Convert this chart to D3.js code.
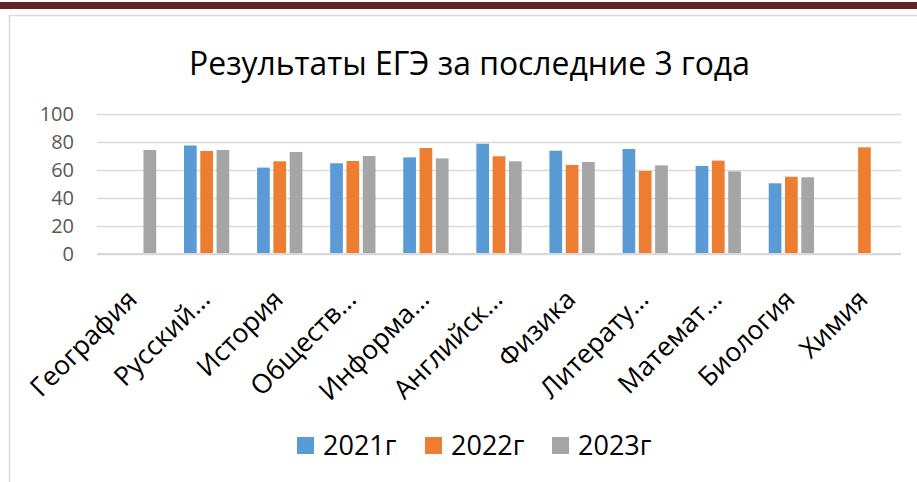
<!DOCTYPE html>
<html>
<head>
<meta charset="utf-8">
<script src="https://cdn.jsdelivr.net/npm/d3@7"></script>
<style>
  body { margin: 0; background: #fff; }
  svg { display: block; font-family: "Open Sans", sans-serif; }
</style>
</head>
<body>
<div id="canvas"></div>
<script>
// data
const subjects = ["География", "Русский…", "История", "Обществ…", "Информа…", "Английск…",
  "Физика", "Литерату…", "Математ…", "Биология", "Химия"];
const series = ["2021г", "2022г", "2023г"];
const v2021 = [null, 77.5, 61.7, 64.8, 69, 78.8, 73.8, 75, 62.9, 50.5, null];
const v2022 = [null, 73.6, 66.2, 66.4, 75.7, 69.8, 63.6, 59.3, 66.7, 55.2, 76.2];
const v2023 = [74.3, 74.3, 72.9, 70, 68.3, 66.2, 65.7, 63.3, 59, 54.8, null];
const yTicks = [0, 20, 40, 60, 80, 100];
const colors = ["#5b9bd5", "#ed7d31", "#a5a5a5"];
const title = "Результаты ЕГЭ за последние 3 года";

const width = 917, height = 482;
const margin = { top: 114, left: 97, right: 16, bottom: 228 };
const iwidth = width - margin.left - margin.right;
const iheight = height - margin.top - margin.bottom;

const canvas = d3.select("#canvas");
const svg = canvas.append("svg").attr("width", width).attr("height", height);

// page decoration: dark band and chart frame
svg.append("rect").attr("x", 0).attr("y", 2).attr("width", width).attr("height", 7)
  .style("fill", "#632523");
svg.append("rect").attr("x", 9.5).attr("y", 15.5).attr("width", width + 20).attr("height", height)
  .style("fill", "none").style("stroke", "#d9d9d9").style("stroke-width", 1.5);

// title
const t = svg.append("text")
  .attr("x", 469.5).attr("y", 75)
  .attr("text-anchor", "middle")
  .style("font-size", "30px")
  .style("fill", "#000")
  .text(title);
const tw = t.node().getComputedTextLength();
t.style("font-size", (30 * 561 / tw) + "px");

const g = svg.append("g").attr("transform", `translate(${margin.left}, ${margin.top})`);

const y = d3.scaleLinear().domain([0, 100]).range([iheight, 0]);
const x0 = d3.scaleBand().domain(subjects).range([0, iwidth]).padding(0);
const x1 = d3.scaleBand().domain(series).range([0, 45.3]).paddingInner(0.22);
const off = (x0.bandwidth() - 45.3) / 2;

// grid
g.append("g")
  .classed("y--grid", true)
  .call(d3.axisLeft(y).tickValues(yTicks).tickSize(-iwidth).tickFormat(""))
  .call(a => a.select(".domain").remove())
  .call(a => a.selectAll("line").style("stroke", "#d9d9d9").style("stroke-width", 1.5));

// y labels
g.append("g")
  .classed("y--axis", true)
  .call(d3.axisLeft(y).tickValues(yTicks).tickSize(0).tickPadding(23))
  .call(a => a.select(".domain").remove())
  .call(a => a.selectAll("text").style("font-size", "20px").style("fill", "#595959")
    .style("font-family", "'Open Sans', sans-serif"));

// bars
const rows = subjects.map((s, i) => ({
  name: s,
  vals: [v2021[i], v2022[i], v2023[i]].map((v, k) => ({ key: series[k], v, c: colors[k] }))
}));

const groups = g.selectAll("g.grp").data(rows).enter().append("g")
  .attr("class", "grp")
  .attr("transform", d => `translate(${x0(d.name) + off}, 0)`);

groups.selectAll("rect")
  .data(d => d.vals.filter(e => e.v != null))
  .enter()
  .append("rect")
  .attr("x", d => x1(d.key))
  .attr("y", d => y(d.v))
  .attr("width", x1.bandwidth())
  .attr("height", d => iheight - y(d.v))
  .style("fill", d => d.c);

// x axis line
g.append("line")
  .attr("x1", 0).attr("x2", iwidth)
  .attr("y1", iheight).attr("y2", iheight)
  .style("stroke", "#d9d9d9").style("stroke-width", 2);

// category labels
g.append("g")
  .classed("x--axis", true)
  .selectAll("text")
  .data(subjects)
  .enter()
  .append("text")
  .attr("transform", d => `translate(${x0(d) + x0.bandwidth() / 2 + 5}, ${iheight + 47}) rotate(-45)`)
  .attr("text-anchor", "end")
  .style("font-size", "26.5px")
  .style("fill", "#000")
  .text(d => d);

// legend
const legX = [297, 425, 552];
const leg = svg.append("g").selectAll("g").data(series).enter().append("g")
  .attr("transform", (d, i) => `translate(${legX[i]}, 437)`);
leg.append("rect").attr("width", 17).attr("height", 17).style("fill", (d, i) => colors[i]);
leg.append("text").attr("x", 26).attr("y", 18)
  .style("font-size", "27px").style("fill", "#000")
  .text(d => d);
</script>
</body>
</html>
